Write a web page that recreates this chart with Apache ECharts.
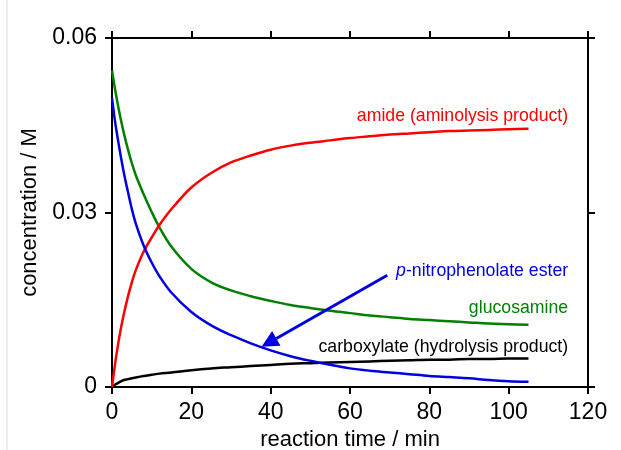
<!DOCTYPE html>
<html>
<head>
<meta charset="utf-8">
<script src="https://cdn.jsdelivr.net/npm/echarts@6/dist/echarts.min.js"></script>
<style>
html,body{margin:0;padding:0;background:#fff;}
#chart{width:621px;height:450px;}
</style>
</head>
<body>
<div id="chart"></div>
<script>
// reaction time (min)
var times = [0,0.5,1,2,3,4,5,6,8,10,12,15,20,25,30,35,40,45,50,55,60,65,70,75,80,85,90,95,100,105];
// concentrations (M)
var amide = [0,0.0026,0.0050,0.0092,0.0126,0.0155,0.0180,0.0201,0.0233,0.0257,0.0279,0.0306,0.0343,0.0368,0.0386,0.0398,0.0408,0.0415,0.0420,0.0424,0.0428,0.0431,0.0434,0.0436,0.0438,0.0440,0.0441,0.0442,0.0443,0.0444];
var ester = [0.0497,0.0470,0.0446,0.0405,0.0368,0.0336,0.0306,0.0281,0.0243,0.0214,0.0190,0.0162,0.0129,0.0106,0.0089,0.0075,0.0063,0.0053,0.0045,0.0038,0.0032,0.0028,0.0025,0.0022,0.0019,0.0017,0.0015,0.0012,0.0010,0.0009];
var glucosamine = [0.0544,0.0523,0.0503,0.0467,0.0436,0.0409,0.0385,0.0364,0.0331,0.0301,0.0274,0.0241,0.0203,0.0180,0.0166,0.0156,0.0148,0.0141,0.0136,0.0131,0.0127,0.0123,0.0120,0.0117,0.0115,0.0113,0.0111,0.0109,0.0108,0.0107];
var carboxylate = [0,0.00025,0.0005,0.0009,0.0012,0.00135,0.0015,0.00165,0.0019,0.0021,0.0023,0.0025,0.0029,0.0032,0.0034,0.0036,0.0038,0.0040,0.0041,0.0042,0.0043,0.0044,0.0045,0.0046,0.0047,0.0047,0.0048,0.0048,0.0049,0.0049];
var xTicks = [0,20,40,60,80,100,120];
var yTicks = [0,0.03,0.06];
// annotations: [label, t, c, colour]
var labels = [
  ['amide (aminolysis product)', 115.0, 0.0465, '#ff0000'],
  ['{i|p}-nitrophenolate ester', 115.0, 0.0199, '#0000e0'],
  ['glucosamine', 115.0, 0.0135, '#008000'],
  ['carboxylate (hydrolysis product)', 115.0, 0.0069, '#000000']
];
var arrowFrom = [69.4, 0.0192];
var arrowTo = [37.7, 0.0069];

function pairs(v){ return times.map(function(t,i){return [t, v[i]];}); }
var FONT = '"Liberation Sans", Arial, sans-serif';
var chart = echarts.init(document.getElementById('chart'), null, {renderer:'canvas'});

function axisCommon(showLabel){
  return {
    axisLine:{show:true, onZero:false, lineStyle:{color:'#000', width:2}},
    axisTick:{show:true, inside:false, length:7, lineStyle:{color:'#000', width:2}},
    splitLine:{show:false},
    axisLabel:{show:showLabel, color:'#000', fontSize:23, fontFamily:FONT}
  };
}
var xb = axisCommon(true);
var xt = axisCommon(false);
var yl = axisCommon(true);
var yr = axisCommon(false);

var option = {
  animation:false,
  backgroundColor:'#fff',
  grid:{left:112, top:38, right:33, bottom:63, containLabel:false, outerBoundsMode:'none'},
  xAxis:[
    Object.assign({type:'value', position:'bottom', min:xTicks[0], max:xTicks[xTicks.length-1], interval:20,
      name:'reaction time / min', nameLocation:'middle', nameGap:41,
      nameTextStyle:{color:'#000', fontSize:22, fontFamily:FONT}}, xb, {axisLabel:Object.assign({}, xb.axisLabel, {margin:14})}),
    Object.assign({type:'value', position:'top', min:xTicks[0], max:xTicks[xTicks.length-1], interval:20}, xt)
  ],
  yAxis:[
    Object.assign({type:'value', position:'left', min:yTicks[0], max:yTicks[yTicks.length-1], interval:0.03,
      name:'concentration / M', nameLocation:'middle', nameGap:59,
      nameTextStyle:{color:'#000', fontSize:22, fontFamily:FONT}}, yl,
      {axisLabel:Object.assign({}, yl.axisLabel, {margin:15, formatter:function(v){return v===0?'0':v.toFixed(2);}})}),
    Object.assign({type:'value', position:'right', min:yTicks[0], max:yTicks[yTicks.length-1], interval:0.03}, yr)
  ],
  series:[
    {name:'amide', type:'line', data:pairs(amide), showSymbol:false, smooth:0.35, lineStyle:{color:'#ff0000', width:2.5}, z:3},
    {name:'glucosamine', type:'line', data:pairs(glucosamine), showSymbol:false, smooth:0.35, lineStyle:{color:'#008000', width:2.5}, z:2},
    {name:'ester', type:'line', data:pairs(ester), showSymbol:false, smooth:0.35, lineStyle:{color:'#0000e0', width:2.5}, z:4},
    {name:'carboxylate', type:'line', data:pairs(carboxylate), showSymbol:false, smooth:0.35, lineStyle:{color:'#000', width:2.5}, z:1}
  ]
};
chart.setOption(option);

var g = [];
g.push({type:'line', shape:{x1:7,y1:0,x2:7,y2:450}, style:{stroke:'#dedede', lineWidth:1}, silent:true});
labels.forEach(function(l){
  var p = chart.convertToPixel({gridIndex:0}, [l[1], l[2]]);
  g.push({type:'text', x:p[0], y:p[1], style:{text:l[0], align:'right', verticalAlign:'middle',
    fill:l[3], font:'17.7px ' + FONT,
    rich:{i:{fontStyle:'italic', fontSize:17.7, fontFamily:FONT, fill:l[3]}}}, z:10});
});
var a = chart.convertToPixel({gridIndex:0}, arrowFrom);
var b = chart.convertToPixel({gridIndex:0}, arrowTo);
var dx = a[0]-b[0], dy = a[1]-b[1], len = Math.sqrt(dx*dx+dy*dy);
var ux = dx/len, uy = dy/len;
var hl = 17, hw = 8.5;
var bx = b[0]+ux*hl, by = b[1]+uy*hl;
g.push({type:'line', shape:{x1:a[0],y1:a[1],x2:bx,y2:by}, style:{stroke:'#0000e0', lineWidth:3}, z:10});
g.push({type:'polygon', shape:{points:[[b[0],b[1]],[bx - uy*hw, by + ux*hw],[bx + uy*hw, by - ux*hw]]}, style:{fill:'#0000e0'}, z:10});
chart.setOption({graphic:g});
</script>
</body>
</html>
